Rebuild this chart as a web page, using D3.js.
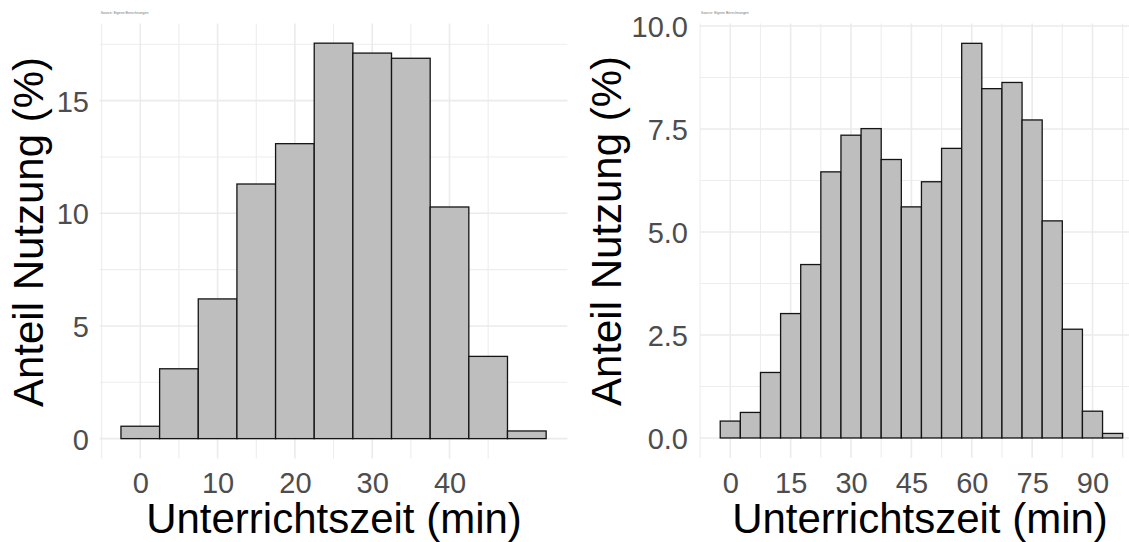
<!DOCTYPE html>
<html>
<head>
<meta charset="utf-8">
<script src="https://cdn.jsdelivr.net/npm/d3@7"></script>
<style>
  html, body { margin: 0; padding: 0; background: #fff; }
  svg { display: block; font-family: "Liberation Sans", Arial, sans-serif; }
</style>
</head>
<body>
<svg id="chart" width="1129" height="542"></svg>
<script>
// ---- data ----
const leftBinCenters = [0, 5, 10, 15, 20, 25, 30, 35, 40, 45, 50];
const leftShares = [0.55, 3.10, 6.20, 11.30, 13.09, 17.55, 17.11, 16.88, 10.28, 3.65, 0.34];
const leftXTicks = [0, 10, 20, 30, 40];
const leftYTicks = [0, 5, 10, 15];
const leftYTickLabels = ["0", "5", "10", "15"];

const rightBinCenters = [0, 5, 10, 15, 20, 25, 30, 35, 40, 45, 50, 55, 60, 65, 70, 75, 80, 85, 90, 95];
const rightShares = [0.41, 0.62, 1.59, 3.02, 4.21, 6.46, 7.35, 7.51, 6.76, 5.61, 6.22, 7.03, 9.58, 8.48, 8.63, 7.72, 5.27, 2.64, 0.65, 0.11];
const rightXTicks = [0, 15, 30, 45, 60, 75, 90];
const rightYTicks = [0, 2.5, 5, 7.5, 10];
const rightYTickLabels = ["0.0", "2.5", "5.0", "7.5", "10.0"];

const binWidth = 5;
const xTitle = "Unterrichtszeit (min)";
const yTitle = "Anteil Nutzung (%)";
const captionText = "Source: Eigene Berechnungen";

const svg = d3.select("#chart");

function minorBreaks(major, domain) {
  const step = major[1] - major[0];
  const b = major.slice();
  if (domain[0] < b[0]) b.unshift(b[0] - step);
  if (domain[1] > b[b.length - 1]) b.push(b[b.length - 1] + step);
  const out = [];
  for (let i = 0; i < b.length - 1; i++) out.push((b[i] + b[i + 1]) / 2);
  return out.filter(v => v >= domain[0] && v <= domain[1]);
}

function panel(cfg) {
  const lo = d3.min(cfg.centers) - binWidth / 2;
  const hi = d3.max(cfg.centers) + binWidth / 2;
  const ex = (hi - lo) * 0.05;
  const xDom = [lo - ex, hi + ex];
  const ymax = d3.max(cfg.values);
  const yDom = [-0.05 * ymax, 1.05 * ymax];

  const x = d3.scaleLinear().domain(xDom).range(cfg.xr);
  const y = d3.scaleLinear().domain(yDom).range(cfg.yr);
  const g = svg.append("g");

  const xMinor = minorBreaks(cfg.xTicks, xDom);
  const yMinor = minorBreaks(cfg.yTicks, yDom);

  // Minor grid
  g.selectAll(".vminor").data(xMinor).join("line")
    .attr("x1", d => x(d)).attr("x2", d => x(d))
    .attr("y1", cfg.yr[0]).attr("y2", cfg.yr[1])
    .attr("stroke", "#ededed").attr("stroke-width", 1.1);
  g.selectAll(".hminor").data(yMinor).join("line")
    .attr("y1", d => y(d)).attr("y2", d => y(d))
    .attr("x1", cfg.xr[0]).attr("x2", cfg.xr[1])
    .attr("stroke", "#ededed").attr("stroke-width", 1.1);
  // Major grid
  g.selectAll(".vmajor").data(cfg.xTicks).join("line")
    .attr("x1", d => x(d)).attr("x2", d => x(d))
    .attr("y1", cfg.yr[0]).attr("y2", cfg.yr[1])
    .attr("stroke", "#ebebeb").attr("stroke-width", 1.6);
  g.selectAll(".hmajor").data(cfg.yTicks).join("line")
    .attr("y1", d => y(d)).attr("y2", d => y(d))
    .attr("x1", cfg.xr[0]).attr("x2", cfg.xr[1])
    .attr("stroke", "#ebebeb").attr("stroke-width", 1.6);

  // Bars
  g.selectAll(".bar").data(cfg.centers.map((c, i) => ({ c, v: cfg.values[i] }))).join("rect")
    .attr("x", d => x(d.c - binWidth / 2))
    .attr("width", d => x(d.c + binWidth / 2) - x(d.c - binWidth / 2))
    .attr("y", d => y(d.v))
    .attr("height", d => y(0) - y(d.v))
    .attr("fill", "#bebebe").attr("stroke", "#141414").attr("stroke-width", 1.3);

  // Axis tick labels
  const xAxis = d3.axisBottom(x).tickValues(cfg.xTicks).tickSize(0).tickPadding(0).tickFormat(d3.format("d"));
  const xa = g.append("g").attr("transform", `translate(0,${cfg.xLabelY})`).call(xAxis);
  xa.select(".domain").remove();
  xa.selectAll("text").attr("fill", "#4d4d4d").attr("font-size", 29).attr("dy", 0)
    .attr("font-family", "Liberation Sans, Arial, sans-serif");

  const yAxis = d3.axisLeft(y).tickValues(cfg.yTicks).tickSize(0).tickPadding(0)
    .tickFormat((d, i) => cfg.yLabels[i]);
  const ya = g.append("g").attr("transform", `translate(${cfg.yLabelX},0)`).call(yAxis);
  ya.select(".domain").remove();
  ya.selectAll("text").attr("fill", "#4d4d4d").attr("font-size", 29).attr("dy", "0.36em")
    .attr("font-family", "Liberation Sans, Arial, sans-serif");

  // Titles
  g.append("text").attr("x", cfg.xTitleX).attr("y", 533)
    .attr("text-anchor", "middle").attr("font-size", 42).attr("fill", "#000").text(xTitle);
  g.append("text")
    .attr("transform", `translate(${cfg.yTitleX},${cfg.yTitleY}) rotate(-90)`)
    .attr("text-anchor", "middle").attr("font-size", 42).attr("fill", "#000").text(yTitle);

  // Tiny caption
  g.append("text").attr("x", cfg.xr[0] + 1).attr("y", 14).attr("font-size", 3.5)
    .attr("fill", "#777").text(captionText);
}

panel({
  centers: leftBinCenters, values: leftShares, xTicks: leftXTicks, yTicks: leftYTicks, yLabels: leftYTickLabels,
  xr: [99.7, 567.4], yr: [458.4, 23.4], xLabelY: 493, yLabelX: 89, yTitleX: 43, yTitleY: 232, xTitleX: 334
});
panel({
  centers: rightBinCenters, values: rightShares, xTicks: rightXTicks, yTicks: rightYTicks, yLabels: rightYTickLabels,
  xr: [700.1, 1142.8], yr: [457.7, 23.6], xLabelY: 493, yLabelX: 688, yTitleX: 621, yTitleY: 231, xTitleX: 920
});
</script>
</body>
</html>
